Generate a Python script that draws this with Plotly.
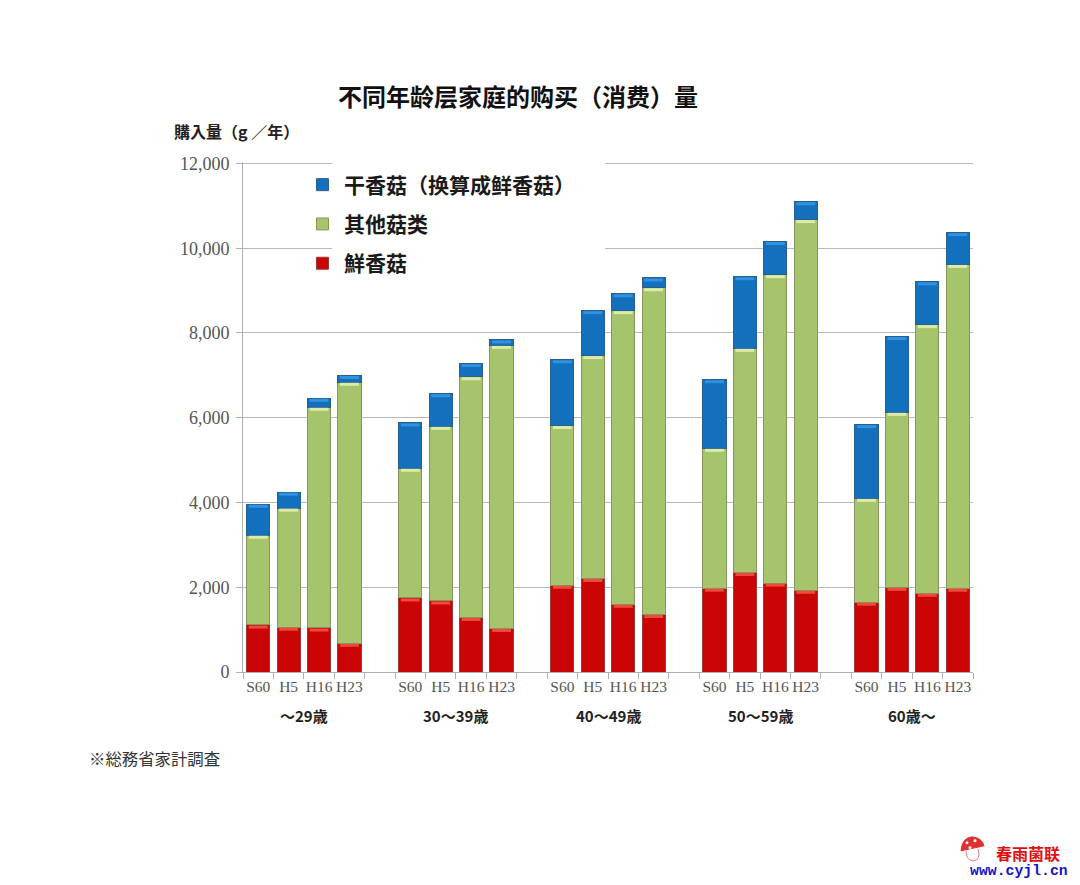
import numpy as np
import plotly.graph_objects as go

W, H = 1080, 885
# the page has an 8px body margin, so the figure sits 8px in
PAGE_W, PAGE_H = W - 8, H - 2
L, R, T, B = 243, 973, 161.5, 672

age_groups = ["～29歳", "30～39歳", "40～49歳", "50～59歳", "60歳～"]
years = ["S60", "H5", "H16", "H23"]

# values in g/year, one list per series
fresh = [1110, 1060, 1040, 680,
         1750, 1680, 1290, 1030,
         2050, 2210, 1600, 1360,
         1980, 2350, 2100, 1930,
         1650, 2000, 1860, 1980]
other = [2120, 2810, 5210, 6160,
         3060, 4120, 5680, 6680,
         3770, 5260, 6930, 7710,
         3300, 5290, 7280, 8750,
         2450, 4130, 6340, 7640]
dried = [730, 375, 210, 160,
         1070, 770, 310, 130,
         1550, 1060, 400, 230,
         1620, 1690, 780, 420,
         1740, 1790, 1010, 750]

y_ticks = [0, 2000, 4000, 6000, 8000, 10000, 12000]

series = [
    ("鮮香菇", fresh, "#cb0505", "#ee4a3e", "#9c3a3a", 3),
    ("其他菇类", other, "#a6c46c", "#dcebaa", "#86965e", 2),
    ("干香菇（换算成鲜香菇）", dried, "#1270bd", "#2f93e2", "#2a5f8c", 1),
]

SERIF = "Liberation Serif"
CJK = "Noto Sans CJK SC"
CJK_JP = "Noto Sans CJK JP"


def to_x(x):
    return (x - L) / (R - L)


def to_y(y):
    return (B - y) / (B - T)


# 4 bars per group, one empty slot between groups
x_pos = [g * 5 + i for g in range(len(age_groups)) for i in range(len(years))]
x_labels = years * len(age_groups)
group_centers = [g * 5 + 1.5 for g in range(len(age_groups))]

fig = go.Figure()
base = np.zeros(len(x_pos))
for name, values, color, cap, edge, rank in series:
    fig.add_trace(go.Bar(
        x=x_pos, y=values, name=name, legendgroup=name, legendrank=rank,
        marker=dict(color=color, line=dict(color=edge, width=1)),
    ))
    base = base + np.array(values)
    # lighter band along the top of each segment
    fig.add_trace(go.Scatter(
        x=x_pos, y=base - 50, mode="markers", showlegend=False, hoverinfo="skip",
        marker=dict(symbol="line-ew", size=13.5, line=dict(color=cap, width=3)),
    ))

fig.update_layout(
    width=PAGE_W - 8, height=PAGE_H - 8,
    margin=dict(l=L - 8, r=PAGE_W - R, t=T - 8, b=PAGE_H - B, pad=0),
    paper_bgcolor="white", plot_bgcolor="white",
    barmode="stack", bargap=0.24,
    title=dict(
        text="<b>不同年龄层家庭的购买（消费）量</b>",
        x=(518 - 8) / (PAGE_W - 8), xanchor="center", xref="container",
        y=1 - (98 - 8) / (PAGE_H - 8), yanchor="middle", yref="container",
        font=dict(family=CJK, size=24, color="#111111"),
    ),
    legend=dict(
        x=to_x(301), y=to_y(164), xanchor="left", yanchor="top",
        traceorder="grouped", tracegroupgap=9, itemwidth=33,
        bgcolor="rgba(0,0,0,0)",
        font=dict(family=CJK, size=21, color="#1a1a1a", weight=700),
    ),
    xaxis=dict(
        range=[-0.5, 23.5],
        tickmode="array", tickvals=x_pos, ticktext=x_labels,
        ticks="", showgrid=False, zeroline=False,
        showline=True, linecolor="#b0b0b0", linewidth=1,
        tickfont=dict(family=SERIF, size=15.5, color="#555555"),
        minor=dict(tick0=-0.5, dtick=1, ticks="outside", ticklen=6,
                   tickcolor="#b0b0b0", showgrid=False),
    ),
    yaxis=dict(
        # plotly drops a gridline within 1px of the edge, so leave 1.5px over 12000
        range=[0, 12035], tickmode="array", tickvals=y_ticks, tickformat=",",
        showgrid=True, gridcolor="#b8b8b8", gridwidth=1, zeroline=False,
        showline=True, linecolor="#b0b0b0", linewidth=1,
        ticks="outside", ticklen=6, tickcolor="#b0b0b0", ticklabelstandoff=3,
        tickfont=dict(family=SERIF, size=18, color="#555555"),
    ),
)

# white block behind the legend text, it cuts the gridlines
fig.add_shape(type="rect", xref="paper", yref="paper", layer="above",
              x0=to_x(332), x1=to_x(605), y0=to_y(285), y1=to_y(160),
              fillcolor="white", line_width=0)

for name, c in zip(age_groups, group_centers):
    fig.add_annotation(
        x=c, xref="x", y=to_y(716), yref="paper", yanchor="middle",
        text=f"<b>{name}</b>", showarrow=False,
        font=dict(family=CJK_JP, size=15, color="#222222"),
    )


def page_text(x, y, text, family, size, color):
    fig.add_annotation(
        x=to_x(x), xref="paper", y=to_y(y), yref="paper", text=text, showarrow=False,
        xanchor="left", yanchor="middle",
        font=dict(family=family, size=size, color=color),
    )


page_text(172, 130, "<b>購入量（g ／年）</b>", CJK_JP, 16, "#222222")
page_text(87, 758, "※総務省家計調査", CJK_JP, 16.4, "#333333")
page_text(994, 853, "<b>春雨菌联</b>", CJK, 16, "#e01010")
page_text(968, 871, "<b>www.cyjl.cn</b>", "Liberation Mono", 14.8, "#1414c8")


def logo_path(d, **kwargs):
    fig.add_shape(type="path", xref="paper", yref="paper", layer="above", path=d, **kwargs)


# little mushroom logo
logo_path(f"M {to_x(961)} {to_y(851)} Q {to_x(962)} {to_y(838)} {to_x(972)} {to_y(837)} "
          f"Q {to_x(982)} {to_y(838)} {to_x(984)} {to_y(846)} Z",
          fillcolor="#e03030", line=dict(color="#e03030", width=1))
logo_path(f"M {to_x(966)} {to_y(851)} Q {to_x(966)} {to_y(861)} {to_x(974)} {to_y(861)} "
          f"Q {to_x(981)} {to_y(860)} {to_x(978)} {to_y(849)}",
          line=dict(color="#e88080", width=1))
for sx, sy in [(967, 843), (975, 841), (970, 848)]:
    fig.add_shape(type="circle", xref="paper", yref="paper", layer="above",
                  x0=to_x(sx - 1.5), x1=to_x(sx + 1.5), y0=to_y(sy + 1.5), y1=to_y(sy - 1.5),
                  fillcolor="white", line_width=0)

fig.write_html("out.html")
